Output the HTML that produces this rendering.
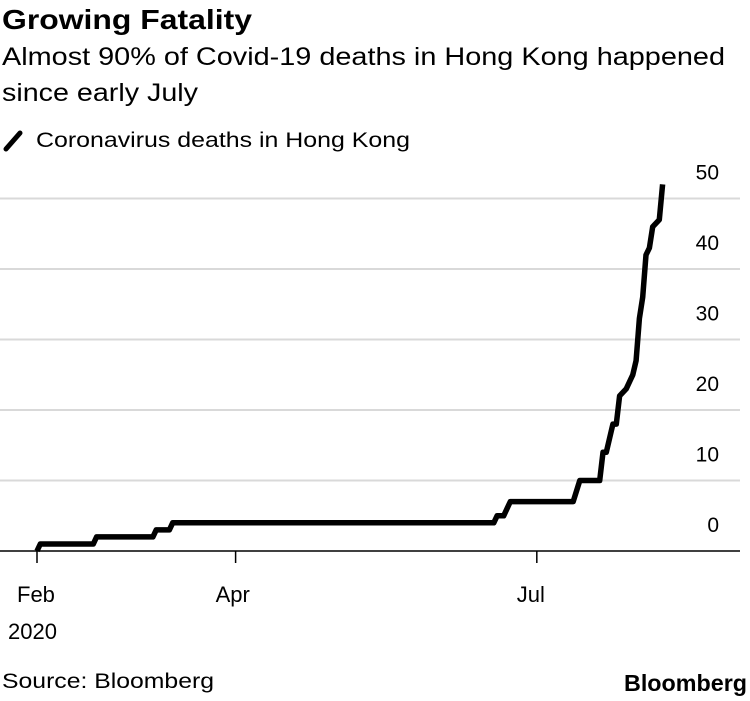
<!DOCTYPE html>
<html><head><meta charset="utf-8"><style>
body{margin:0;background:#fff;width:750px;height:696px;overflow:hidden;font-family:"Liberation Sans",sans-serif;}
svg text{font-family:"Liberation Sans",sans-serif;}
</style></head><body>
<svg id="chart" width="750" height="696" xmlns="http://www.w3.org/2000/svg">
<text x="2" y="29" font-size="28" font-weight="bold" fill="#000" textLength="250" lengthAdjust="spacingAndGlyphs">Growing Fatality</text>
<text x="2" y="65" font-size="25" fill="#000" textLength="723" lengthAdjust="spacingAndGlyphs">Almost 90% of Covid-19 deaths in Hong Kong happened</text>
<text x="2" y="101" font-size="25" fill="#000" textLength="196" lengthAdjust="spacingAndGlyphs">since early July</text>
<g>
<line x1="6" y1="149" x2="20" y2="133" stroke="#000" stroke-width="5" stroke-linecap="round"/>
<text x="36" y="147" font-size="21" fill="#000" textLength="374" lengthAdjust="spacingAndGlyphs">Coronavirus deaths in Hong Kong</text>
</g>
<g id="grid"></g><g id="ylabels"></g><g id="xaxis"></g>
<path id="series" fill="none" stroke="#000" stroke-width="5.5" stroke-linejoin="round"/>
<text x="2" y="688" font-size="21" fill="#000" textLength="212" lengthAdjust="spacingAndGlyphs">Source: Bloomberg</text>
<text x="624" y="691" font-size="23" font-weight="bold" fill="#000" textLength="123" lengthAdjust="spacingAndGlyphs">Bloomberg</text>
</svg>
<script>
const days=[0,1,17,18,35,36,40,41,138,139,141,142,143,162,164,170,171,172,174,175,176,178,180,181,182,183,184,185,186,188,189];
const deaths=[0,1,1,2,2,3,3,4,4,5,5,6,7,7,10,10,14,14,18,18,22,23,25,27,33,36,42,43,46,47,52];
const yTicks=[0,10,20,30,40,50];
const xTickDays=[0,60,151];
const xTickLabels=["Feb","Apr","Jul"];
const NS="http://www.w3.org/2000/svg";
const X=d=>37+d*3.31;
const Y=v=>551-v*7.05;
const grid=document.getElementById('grid'),yl=document.getElementById('ylabels'),xa=document.getElementById('xaxis');
yTicks.forEach(v=>{
 if(v>0){const l=document.createElementNS(NS,'line');
 
 
 l.setAttribute('x1',0);l.setAttribute('x2',740);l.setAttribute('y1',Y(v));l.setAttribute('y2',Y(v));
 l.setAttribute('stroke','#d9d9d9');l.setAttribute('stroke-width',2);grid.appendChild(l);}
 const t=document.createElementNS(NS,'text');
 
 
 t.setAttribute('x',719);t.setAttribute('y',Y(v)-19);t.setAttribute('text-anchor','end');t.setAttribute('font-size',21);
 t.textContent=v;yl.appendChild(t);
});
const ax=document.createElementNS(NS,'line');


ax.setAttribute('x1',0);ax.setAttribute('x2',740);ax.setAttribute('y1',551);ax.setAttribute('y2',551);ax.setAttribute('stroke','#000');ax.setAttribute('stroke-width',1.5);xa.appendChild(ax);
xTickDays.forEach((d,i)=>{
 const l=document.createElementNS(NS,'line');
 
 
 l.setAttribute('x1',X(d));l.setAttribute('x2',X(d));l.setAttribute('y1',551);l.setAttribute('y2',563);l.setAttribute('stroke','#000');l.setAttribute('stroke-width',1.5);xa.appendChild(l);
 const t=document.createElementNS(NS,'text');
 
 
 t.setAttribute('x',X(d)-20);t.setAttribute('y',602);t.setAttribute('font-size',22);t.textContent=xTickLabels[i];xa.appendChild(t);
});
const yr=document.createElementNS(NS,'text');


yr.setAttribute('x',8);yr.setAttribute('y',639);yr.setAttribute('font-size',22);yr.textContent='2020';xa.appendChild(yr);
document.getElementById('series').setAttribute('d',days.map((d,i)=>(i?'L':'M')+X(d).toFixed(1)+','+Y(deaths[i]).toFixed(1)).join(''));
</script>
</body></html>
